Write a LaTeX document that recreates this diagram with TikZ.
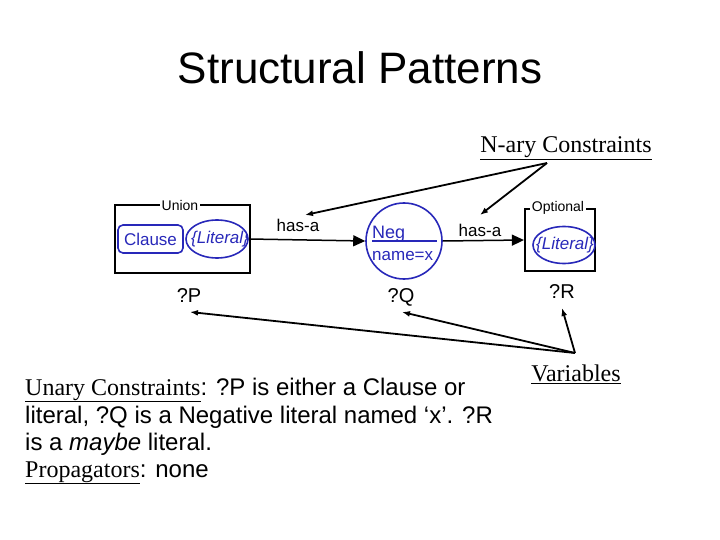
\documentclass[tikz,border=0pt]{standalone}
\usepackage{fontspec}
\setmainfont{Liberation Serif}
\newfontfamily\arial{Liberation Sans}
\usetikzlibrary{arrows.meta,shapes.geometric}
\definecolor{nodeblue}{RGB}{40,40,185}
\tikzset{
  sf/.style={font=\arial\fontsize{#1}{#1}\selectfont},
  sfit/.style={font=\arial\itshape\fontsize{#1}{#1}\selectfont},
  rm/.style={font=\fontsize{#1}{#1}\selectfont},
  bluebox/.style={draw=nodeblue, line width=1.6pt, text=nodeblue, inner sep=0pt},
  framebox/.style={draw, line width=2.2pt, inner sep=0pt},
  lbl/.style={fill=white, inner xsep=2pt, inner ysep=0pt},
  hasarrow/.style={line width=1.5pt, -{Triangle[length=12pt,width=11pt]}},
  annot/.style={line width=1.8pt, -{Latex[length=8pt,width=6pt]}},
}
\begin{document}
\begin{tikzpicture}[x=1pt,y=-1pt]
\useasboundingbox (0,0) rectangle (720,540);

% title
\node[sf=44, anchor=base] (title) at (360,84) {Structural Patterns};

% Union box
\node[framebox, minimum width=135pt, minimum height=68pt] (union) at (182.5,239) {};
\node[lbl, sf=14] (unionlbl) at (180,205) {Union};
\node[bluebox, rounded corners=5pt, minimum width=65pt, minimum height=28pt, sf=17] (clause) at (150.5,239) {Clause};
\node[bluebox, ellipse, minimum width=62pt, minimum height=38pt] (lit) at (217,239) {};
\begin{scope}
  \clip (217,239) ellipse [x radius=30.5, y radius=18.5];
  \node[anchor=west, text=nodeblue, sfit=17, inner sep=0pt] (littext) at (191,239) {\{Literal\}};
\end{scope}

% Neg circle
\node[bluebox, circle, minimum size=76pt] (neg) at (404,241) {};
\draw[nodeblue, line width=1.2pt] ([xshift=-32pt]neg.center) -- ([xshift=33pt]neg.center);
\node[anchor=base west, text=nodeblue, sf=18, inner sep=0pt] (negtxt) at (372,238) {Neg};
\node[anchor=base west, text=nodeblue, sf=17, inner sep=0pt] (nametxt) at (372,260) {name=x};

% Optional box
\node[framebox, minimum width=70pt, minimum height=62pt] (optbox) at (560,240) {};
\node[lbl, sf=14] (optlbl) at (558,208) {Optional};
\node[bluebox, ellipse, minimum width=62pt, minimum height=37pt] (optlit) at (564,245) {};
\begin{scope}
  \clip (564,245) ellipse [x radius=30.5, y radius=18];
  \node[anchor=west, text=nodeblue, sfit=17, inner sep=0pt] (optlittext) at (536,245) {\{Literal\}};
\end{scope}

% has-a connectors
\draw[hasarrow] (lit.east) -- (neg.west);
\draw[hasarrow] (neg.east) -- (optbox.west);
\node[sf=17] (hasa1) at (298,225) {has-a};
\node[sf=17] (hasa2) at (480,230) {has-a};

% variables
\node[sf=20, anchor=base] (p) at (189,302) {?P};
\node[sf=20, anchor=base] (q) at (401,302) {?Q};
\node[sf=20, anchor=base] (r) at (562,298) {?R};

% annotations
\node[rm=24, anchor=base] (nary) at (566,153) {\underline{N-ary Constraints}};
\coordinate (naryfoot) at (547,163);
\coordinate (hasa1tip) at (305,215);
\coordinate (hasa2tip) at (480,215);
\draw[annot] (naryfoot) -- (hasa1tip);
\draw[annot] (naryfoot) -- (hasa2tip);

\node[rm=24, anchor=base] (vars) at (576,381) {\underline{Variables}};
\coordinate (varsfoot) at (575,353);
\coordinate (ptip) at (190,312);
\coordinate (qtip) at (402,312);
\coordinate (rtip) at (562,308);
\draw[annot] (varsfoot) -- (ptip);
\draw[annot] (varsfoot) -- (qtip);
\draw[annot] (varsfoot) -- (rtip);

% body text
\node[rm=24, anchor=base west, inner sep=0pt] (line1) at (25,395) {\underline{Unary Constraints}{\arial: ?P is either a Clause or}};
\node[sf=24, anchor=base west, inner sep=0pt] (line2) at (25,423) {literal, ?Q is a Negative literal named ‘x’. ?R};
\node[sf=24, anchor=base west, inner sep=0pt] (line3) at (25,450) {is a \textit{maybe} literal.};
\node[rm=24, anchor=base west, inner sep=0pt] (line4) at (25,477) {\underline{Propagators}{\arial: none}};
\end{tikzpicture}
\end{document}
